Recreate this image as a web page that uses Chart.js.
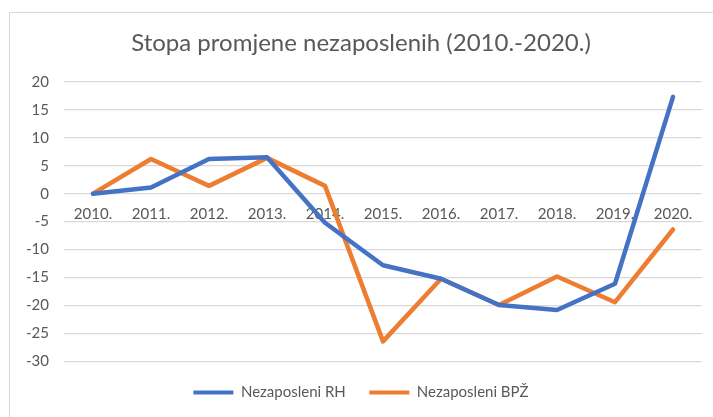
<!DOCTYPE html>
<html>
<head>
<meta charset="utf-8">
<script src="https://cdn.jsdelivr.net/npm/chart.js@4"></script>
<style>
    html, body { margin: 0; padding: 0; background: #fff; }
    #box {
        position: absolute; left: 9px; top: 12px;
        width: 704px; height: 405px;
        border-top: 1px solid #d9d9d9; border-left: 1px solid #d9d9d9;
    }
</style>
</head>
<body>
<div id="box"><canvas id="chart"></canvas></div>
<script>
const years = ["2010.", "2011.", "2012.", "2013.", "2014.", "2015.", "2016.", "2017.", "2018.", "2019.", "2020."];
const rh = [0, 1.1, 6.2, 6.5, -5.2, -12.8, -15.2, -19.9, -20.8, -16.1, 17.3];
const bpz = [0, 6.2, 1.4, 6.4, 1.4, -26.4, -15.2, -19.9, -14.8, -19.4, -6.4];
const yMin = -30, yMax = 20, yStep = 5;

const txt = "#595959";
const font = "Lato, 'Open Sans', sans-serif";

new Chart(document.getElementById("chart"), {
    type: "line",
    data: {
        labels: years,
        datasets: [
            { label: "Nezaposleni RH", data: rh, borderColor: "#4472C4", backgroundColor: "#4472C4" },
            { label: "Nezaposleni BPŽ", data: bpz, borderColor: "#ED7D31", backgroundColor: "#ED7D31" }
        ]
    },
    options: {
        responsive: true,
        maintainAspectRatio: false,
        animation: false,
        layout: { padding: { left: 10, right: 12, top: 0, bottom: 8 } },
        elements: {
            line: { borderWidth: 4.5, tension: 0, borderCapStyle: "round", borderJoinStyle: "round" },
            point: { radius: 0, hoverRadius: 0 }
        },
        scales: {
            x: {
                axis: "x",
                position: { y: 0 },
                offset: true,
                grid: { display: false, drawTicks: false },
                border: { display: false },
                ticks: { color: txt, font: { family: font, size: 15 }, padding: 11, maxRotation: 0 }
            },
            y: {
                min: yMin, max: yMax,
                grid: { color: "#d9d9d9", lineWidth: 1.3, drawTicks: false },
                border: { display: false },
                ticks: { stepSize: yStep, color: txt, font: { family: font, size: 15 }, padding: 15 },
                afterFit: s => { s.width = 44; }
            }
        },
        plugins: {
            title: {
                display: true,
                text: "Stopa promjene nezaposlenih (2010.-2020.)",
                color: txt,
                font: { family: font, size: 24, weight: "normal" },
                padding: { top: 16, bottom: 24 }
            },
            legend: {
                position: "bottom",
                labels: {
                    color: txt,
                    font: { family: font, size: 15 },
                    boxWidth: 40, boxHeight: 4,
                    padding: 23.5,
                    generateLabels: c => Chart.defaults.plugins.legend.labels.generateLabels(c).map(l => ({ ...l, lineWidth: 0 }))
                }
            },
            tooltip: { enabled: false }
        }
    }
});
</script>
</body>
</html>
